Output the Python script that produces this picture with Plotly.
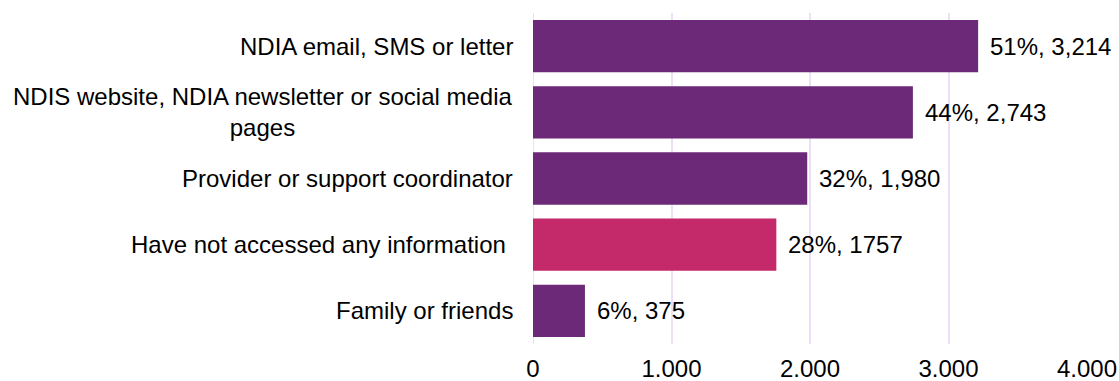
import plotly.graph_objects as go

categories = [
    "NDIA email, SMS or letter",
    "NDIS website, NDIA newsletter or social media<br>pages",
    "Provider or support coordinator",
    "Have not accessed any information ",
    "Family or friends",
]
values = [3214, 2743, 1980, 1757, 375]
labels = ["51%, 3,214", "44%, 2,743", "32%, 1,980", "28%, 1757", "6%, 375"]
colors = ["#6B2977", "#6B2977", "#6B2977", "#C4296A", "#6B2977"]
tick_vals = [0, 1000, 2000, 3000, 4000]
tick_text = ["0", "1.000", "2.000", "3.000", "4.000"]

FONT = "Liberation Sans, Arial, sans-serif"
FS = 24

fig = go.Figure(go.Bar(
    y=categories, x=values, orientation="h",
    marker=dict(color=colors, line=dict(width=0)),
    hoverinfo="skip",
))

annotations = []
for c, v, t in zip(categories, values, labels):
    annotations.append(dict(x=v, y=c, xref="x", yref="y", text=t, showarrow=False,
                            xanchor="left", xshift=10, font=dict(size=FS, color="#000000", family=FONT)))
    annotations.append(dict(x=0, y=c, xref="paper", yref="y", text=c, showarrow=False,
                            xanchor="right", xshift=-18, align="center",
                            font=dict(size=FS, color="#000000", family=FONT)))

fig.update_layout(
    width=1119, height=381,
    margin=dict(l=533, r=32, t=13, b=37),
    plot_bgcolor="white", paper_bgcolor="white",
    bargap=0.21,
    showlegend=False,
    annotations=annotations,
    font=dict(family=FONT, size=FS, color="#000000"),
)
fig.update_xaxes(range=[0, 4000], tickvals=tick_vals, ticktext=tick_text,
                 showgrid=True, gridcolor="#EFDFF5", gridwidth=2,
                 zeroline=False, showline=False, ticks="", ticklabelstandoff=8,
                 automargin=False,
                 tickfont=dict(size=FS, family=FONT, color="#000000"))
fig.update_yaxes(autorange="reversed", showticklabels=False, showgrid=False,
                 zeroline=False, showline=False, ticks="", automargin=False)
fig.add_shape(type="line", xref="x", yref="paper", x0=0, x1=0, y0=0, y1=1,
              line=dict(color="#EFDFF5", width=2), layer="below")

fig.write_html("out.html")
